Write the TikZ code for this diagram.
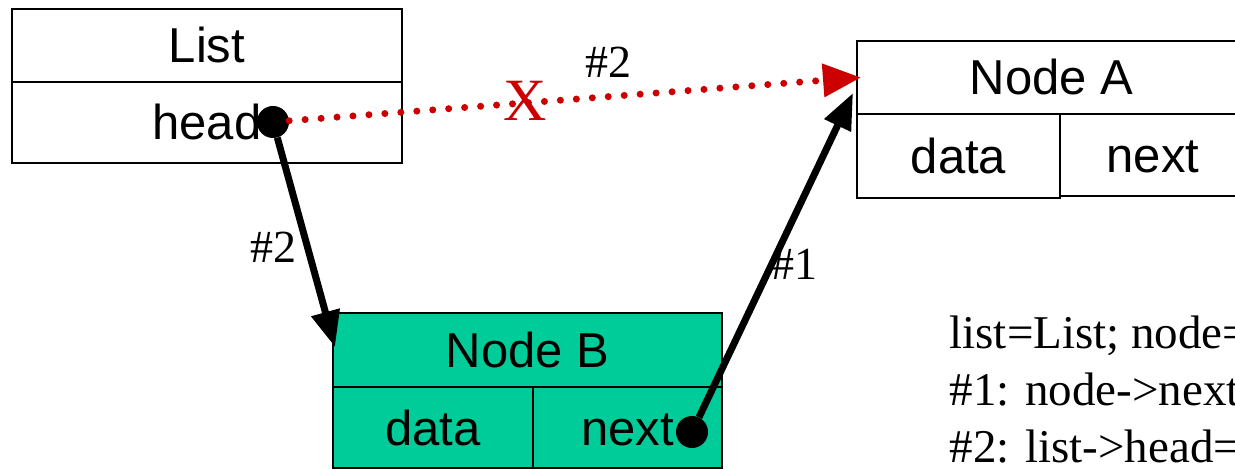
\documentclass[tikz,border=0pt]{standalone}
\usepackage{fontspec}
\setmainfont{Liberation Serif}
\setsansfont{Liberation Sans}
\usetikzlibrary{arrows.meta}
\definecolor{nodefill}{RGB}{0,204,153}
\definecolor{cutred}{RGB}{204,0,0}

\begin{document}
\begin{tikzpicture}[x=1pt, y=-1pt,
        cell/.style={draw, line width=2.7pt, inner sep=0pt, outer sep=0pt, anchor=north west,
                font=\fontsize{49}{49}\sffamily, text height=35pt, text depth=0pt},
        dot/.style={circle, fill=black, inner sep=0pt, minimum size=32pt},
        ptr/.style={line width=7pt, -{Triangle[length=36pt, width=28pt]}},
        cut/.style={cutred, line width=7pt, line cap=round, dash pattern=on 0pt off 16pt,
                -{Triangle[length=38pt, width=32pt]}},
        lbl/.style={font=\fontsize{46}{46}\selectfont, anchor=base}]
        \useasboundingbox (0,0) rectangle (1235,470);
        \clip (0,0) rectangle (1235,470);

        \node[cell, minimum width=390pt, minimum height=73pt] (list) at (12,9) {List};
        \node[cell, minimum width=390pt, minimum height=81pt] (head) at (list.south west) {head};

        \node[cell, minimum width=389pt, minimum height=73pt] (nodea) at (857,41) {Node A};
        \node[cell, minimum width=203pt, minimum height=84pt] (dataa) at (nodea.south west) {data};
        \node[cell, minimum width=186pt, minimum height=82pt] (nexta) at (dataa.north east) {next};

        \node[cell, fill=nodefill, minimum width=389pt, minimum height=74pt] (nodeb) at (333,313) {Node B};
        \node[cell, fill=nodefill, minimum width=200pt, minimum height=81pt] (datab) at (nodeb.south west) {data};
        \node[cell, fill=nodefill, minimum width=189pt, minimum height=81pt] (nextb) at (datab.north east) {next};

        \node[dot] (hd) at (273,122) {};
        \node[dot] (nx) at (692,432) {};

        \draw[cut] (hd) -- ([xshift=4pt]nodea.west);
        \draw[ptr] (hd) -- ([shift={(2,34)}]nodeb.north west);
        \draw[ptr] (nx) -- ([shift={(-4,52)}]nodea.north west);

        \node[lbl, text=cutred, font=\fontsize{60}{60}\selectfont] (x) at (525,121) {X};
        \node[lbl] (top2) at (608,78) {\#2};
        \node[lbl] (left2) at (273,263) {\#2};
        \node[lbl] (right1) at (794,280) {\#1};

        \node[lbl, font=\fontsize{47}{47}\selectfont, anchor=base west] (ln1) at (946,349) {list=List; node=};
        \node[lbl, font=\fontsize{47}{47}\selectfont, anchor=base west] (ln2) at (946,406) {\#1: node->next};
        \node[lbl, font=\fontsize{47}{47}\selectfont, anchor=base west] (ln3) at (946,462) {\#2: list->head=};
\end{tikzpicture}
\end{document}
